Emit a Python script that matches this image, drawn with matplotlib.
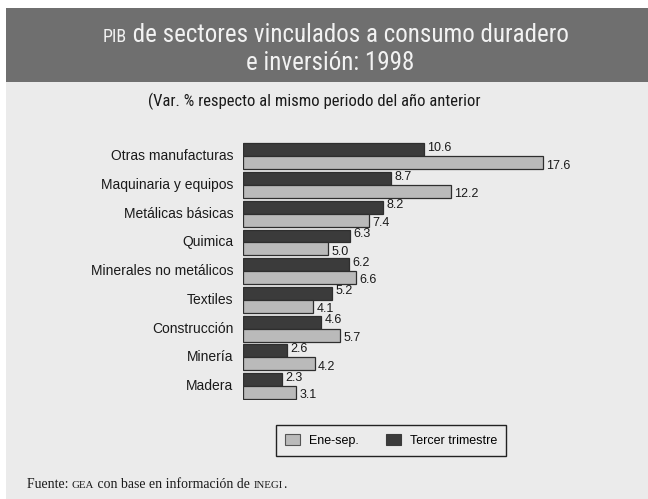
import matplotlib
matplotlib.use("Agg")
import matplotlib.pyplot as plt
from matplotlib import font_manager
from matplotlib.patches import Rectangle, Patch

categories = ["Otras manufacturas", "Maquinaria y equipos", "Metálicas básicas",
              "Quimica", "Minerales no metálicos", "Textiles", "Construcción",
              "Minería", "Madera"]
tercer_trimestre = [10.6, 8.7, 8.2, 6.3, 6.2, 5.2, 4.6, 2.6, 2.3]
ene_sep = [17.6, 12.2, 7.4, 5.0, 6.6, 4.1, 5.7, 4.2, 3.1]
series_names = ["Ene-sep.", "Tercer trimestre"]


def pick(cands):
    for c in cands:
        try:
            font_manager.findfont(c, fallback_to_default=False)
            return c
        except Exception:
            pass
    return "DejaVu Sans"


NARROW = pick(["Liberation Sans Narrow", "DejaVu Sans Condensed", "Roboto Condensed", "Liberation Sans"])
SANS = pick(["Liberation Sans", "Arial", "DejaVu Sans"])
SERIF = pick(["Liberation Serif", "DejaVu Serif"])

W, H = 648, 499
fig = plt.figure(figsize=(W / 100, H / 100), dpi=100)
fig.patch.set_facecolor("white")

BG = "#ebebeb"
BAND = "#6f6f6f"
DARK = "#3b3b3b"
LIGHT = "#bababa"
EDGE = "#2e2e2e"
TXT = "#1a1a1a"


def fx(px):
    return px / W


def fy(py):
    return 1 - py / H


# background panel and title band
fig.patches.append(Rectangle((fx(6), 0), 1 - fx(6), fy(8), transform=fig.transFigure,
                             facecolor=BG, edgecolor="none", zorder=-2))
fig.patches.append(Rectangle((fx(6), fy(82)), 1 - fx(6), fy(8) - fy(82), transform=fig.transFigure,
                             facecolor=BAND, edgecolor="none", zorder=-1))

# title (PIB in small caps)
t1a = fig.text(fx(103), fy(42), "PIB", color="#f2f2f2", fontsize=13, family=NARROW, va="baseline", ha="left")
t1b = fig.text(0, fy(42), " de sectores vinculados a consumo duradero", color="#f2f2f2",
               fontsize=18, family=NARROW, va="baseline", ha="left")
fig.canvas.draw()
r = fig.canvas.get_renderer()
t1b.set_x(t1a.get_window_extent(r).x1 / W)
fig.text(fx(330), fy(70), "e inversión: 1998", color="#f2f2f2", fontsize=18, family=NARROW,
         va="baseline", ha="center")

fig.text(fx(148), fy(101), "(Var. % respecto al mismo periodo del año anterior", fontsize=12,
         family=NARROW, va="center", ha="left", color=TXT)

# axes: x 0 at px 243, 17.6 at px 543
scale = (543 - 243) / 17.6
xmax = 20
ax = fig.add_axes([fx(243), fy(400.4), (xmax * scale) / W, (400.4 - 142) / H])
ax.set_zorder(2)
ax.set_xlim(0, xmax)
ax.set_ylim(len(categories) - 0.5, -0.5)
ax.patch.set_alpha(0)
for s in ax.spines.values():
    s.set_visible(False)
ax.set_xticks([])
ax.set_yticks([])

h = 0.45
ys = list(range(len(categories)))
ax.barh([y - h / 2 for y in ys], tercer_trimestre, height=h, color=DARK, edgecolor=EDGE, linewidth=0.9)
ax.barh([y + h / 2 for y in ys], ene_sep, height=h, color=LIGHT, edgecolor=EDGE, linewidth=0.9)

for y, v in zip(ys, tercer_trimestre):
    ax.annotate(f"{v:.1f}", (v, y - h / 2), xytext=(2.5, 1.5), textcoords="offset points",
                va="center", ha="left", fontsize=9, family=SANS, color=TXT, annotation_clip=False)
for y, v in zip(ys, ene_sep):
    ax.annotate(f"{v:.1f}", (v, y + h / 2), xytext=(2.5, -2), textcoords="offset points",
                va="center", ha="left", fontsize=9, family=SANS, color=TXT, annotation_clip=False)
for y, c in zip(ys, categories):
    ax.annotate(c, (0, y), xytext=(-7, 0), textcoords="offset points",
                va="center", ha="right", fontsize=10, family=SANS, color=TXT, annotation_clip=False)

# legend (box approx px 275..507, 425..456)
handles = [Patch(facecolor=LIGHT, edgecolor="#555555", linewidth=0.8, label=series_names[0]),
           Patch(facecolor=DARK, edgecolor=DARK, linewidth=0.8, label=series_names[1])]
leg = fig.legend(handles=handles, loc="center", bbox_to_anchor=(fx(391), fy(440.5)), ncol=2,
                 frameon=True, fancybox=False, framealpha=1, facecolor=BG, edgecolor="#222222",
                 handlelength=1.2, handleheight=0.95, columnspacing=2.2, handletextpad=0.7,
                 borderpad=0.75, borderaxespad=0, prop={"family": SANS, "size": 9})
leg.get_frame().set_linewidth(1.0)

# footer with small caps
yb = fy(488)
parts = [("Fuente: ", 9.9), ("GEA", 7.8), (" con base en información de ", 9.9), ("INEGI", 7.8), (".", 9.9)]
texts = [fig.text(fx(27), yb, txt, fontsize=fs, family=SERIF, va="baseline", ha="left", color=TXT)
         for txt, fs in parts]
fig.canvas.draw()
r = fig.canvas.get_renderer()
xcur = fx(27)
for t in texts:
    t.set_x(xcur)
    xcur = t.get_window_extent(r).x1 / W

fig.savefig("out.png", dpi=100, facecolor=fig.get_facecolor())
